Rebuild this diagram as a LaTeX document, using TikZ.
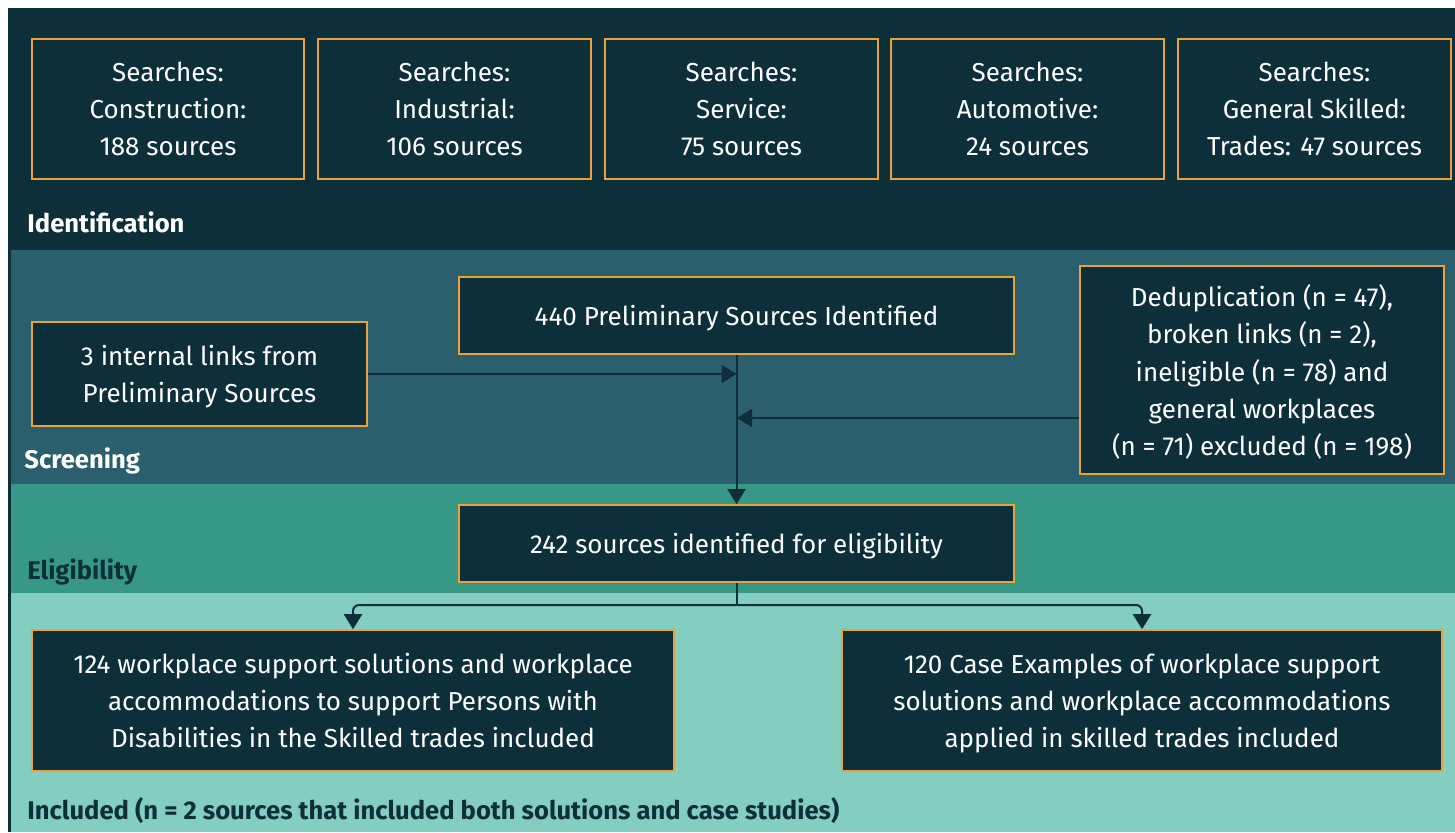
\documentclass[tikz,border=0pt]{standalone}
\usepackage{fontspec}
\setmainfont{Fira Sans}
\usetikzlibrary{arrows.meta}
\definecolor{dark}{HTML}{0D2F3A}
\definecolor{screen}{HTML}{2B5F6D}
\definecolor{elig}{HTML}{379886}
\definecolor{incl}{HTML}{84CEC1}
\definecolor{orng}{HTML}{E8A43A}
\tikzset{
  box/.style={draw=orng, fill=dark, line width=0.8pt, text=white, align=center,
    inner sep=0pt, text depth=0pt, font=\fontsize{13}{18.6}\selectfont},
  phase/.style={anchor=base west, inner sep=0pt, font=\bfseries\fontsize{12.8}{15}\selectfont},
  arr/.style={draw=dark, line width=1pt, -{Triangle[length=7.5pt,width=9pt]}},
  conn/.style={draw=dark, line width=1pt}
}
\begin{document}
\begin{tikzpicture}[x=0.5pt,y=-0.5pt]
\useasboundingbox (0,0) rectangle (1455,832);
\fill[white] (0,0) rectangle (1455,832);
\fill[dark] (8,8) rectangle (1455,832);
\fill[screen] (11,250) rectangle (1455,484);
\fill[elig] (11,484) rectangle (1455,593);
\fill[incl] (11,593) rectangle (1455,832);

\node[box, minimum width=136pt, minimum height=70pt] (s1) at (168,109) {Searches:\\Construction:\\188 sources};
\node[box, minimum width=136.5pt, minimum height=70pt] (s2) at (454.5,109) {Searches:\\Industrial:\\106 sources};
\node[box, minimum width=136.5pt, minimum height=70pt] (s3) at (741.5,109) {Searches:\\Service:\\75 sources};
\node[box, minimum width=136.5pt, minimum height=70pt] (s4) at (1027.5,109) {Searches:\\Automotive:\\24 sources};
\node[box, minimum width=136.5pt, minimum height=70pt] (s5) at (1314.5,109) {Searches:\\General Skilled:\\Trades: 47 sources};

\node[phase, text=white] (lid) at (27,232) {Identification};

\node[box, minimum width=277.5pt, minimum height=38.5pt] (n440) at (736.5,315.5) {440 Preliminary Sources Identified};
\node[box, minimum width=167.5pt, minimum height=52pt] (int) at (199.5,374) {3 internal links from\\Preliminary Sources};
\node[box, minimum width=182pt, minimum height=104pt] (dedup) at (1262,370) {Deduplication (n = 47),\\broken links (n = 2),\\ineligible (n = 78) and\\general workplaces\\(n = 71) excluded (n = 198)};

\node[phase, text=white] (lsc) at (24,468) {Screening};

\node[box, minimum width=277.5pt, minimum height=38.5pt] (n242) at (736.5,543.5) {242 sources identified for eligibility};

\node[phase, text=dark] (lel) at (27,579) {Eligibility};

\node[box, minimum width=321pt, minimum height=70.5pt] (n124) at (353,700.5) {124 workplace support solutions and workplace\\accommodations to support Persons with\\Disabilities in the Skilled trades included};
\node[box, minimum width=300pt, minimum height=70.5pt] (n120) at (1142,700.5) {120 Case Examples of workplace support\\solutions and workplace accommodations\\applied in skilled trades included};

\node[phase, text=dark] (lin) at (27,819) {Included (n = 2 sources that included both solutions and case studies)};

% connectors
\draw[arr] (n440.south) -- (n242.north);
\draw[arr] (int.east) -- (int.east -| n440.south);
\coordinate (dj) at (737,418);
\draw[arr] (dedup.west |- dj) -- (dj);
\coordinate (br) at (736.5,605);
\draw[conn] (n242.south) -- (br);
\draw[arr, rounded corners=3pt] (br) -| (n124.north);
\draw[arr, rounded corners=3pt] (br) -| (n120.north);
\end{tikzpicture}
\end{document}
